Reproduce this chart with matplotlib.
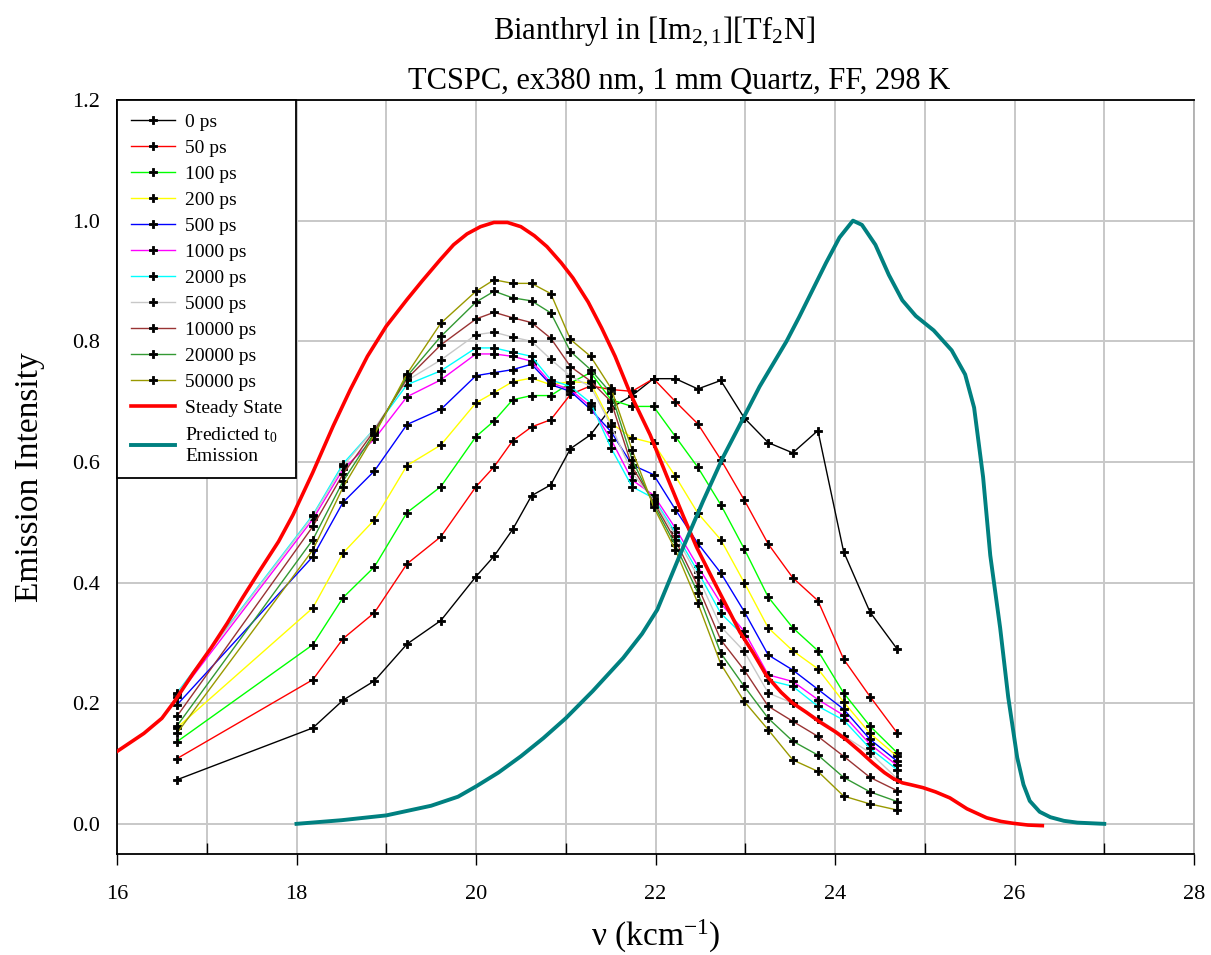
import matplotlib
matplotlib.use("Agg")
import matplotlib.pyplot as plt
from matplotlib.ticker import MultipleLocator
import numpy as np

plt.rcParams['font.family'] = ['Liberation Serif', 'DejaVu Serif']
plt.rcParams['mathtext.fontset'] = 'custom'
plt.rcParams['mathtext.rm'] = 'Liberation Serif'
plt.rcParams['mathtext.it'] = 'Liberation Serif'
plt.rcParams['mathtext.bf'] = 'Liberation Serif:bold'

# Emission wavelengths (nm) of the TCSPC points; x = 1e4 / wavelength (kcm^-1)
wavelengths = [600, 550, 540, 530, 520, 510, 500, 495, 490, 485, 480, 475, 470,
               465, 460, 455, 450, 445, 440, 435, 430, 425, 420, 415, 410, 405]

labels = ["0 ps", "50 ps", "100 ps", "200 ps", "500 ps", "1000 ps", "2000 ps",
          "5000 ps", "10000 ps", "20000 ps", "50000 ps"]

s0 = [0.073, 0.159, 0.205, 0.237, 0.298, 0.337, 0.41, 0.444, 0.488, 0.544, 0.562, 0.622, 0.645,
      0.690, 0.710, 0.738, 0.738, 0.721, 0.735, 0.673, 0.632, 0.615, 0.652, 0.451, 0.351, 0.290]
s50 = [0.108, 0.239, 0.307, 0.350, 0.431, 0.476, 0.559, 0.592, 0.635, 0.658, 0.670, 0.712, 0.726,
       0.720, 0.717, 0.738, 0.700, 0.663, 0.604, 0.537, 0.464, 0.408, 0.370, 0.273, 0.211, 0.151]
s100 = [0.136, 0.297, 0.375, 0.426, 0.516, 0.559, 0.642, 0.668, 0.703, 0.710, 0.710, 0.731, 0.748,
        0.703, 0.692, 0.692, 0.642, 0.591, 0.529, 0.456, 0.376, 0.325, 0.287, 0.217, 0.162, 0.118]
s200 = [0.159, 0.358, 0.449, 0.504, 0.594, 0.628, 0.698, 0.715, 0.733, 0.739, 0.728, 0.733, 0.731,
        0.664, 0.640, 0.631, 0.576, 0.515, 0.471, 0.400, 0.325, 0.287, 0.257, 0.202, 0.150, 0.112]
s500 = [0.197, 0.443, 0.533, 0.585, 0.662, 0.687, 0.743, 0.748, 0.753, 0.762, 0.728, 0.717, 0.687,
        0.650, 0.595, 0.579, 0.521, 0.465, 0.416, 0.352, 0.280, 0.255, 0.223, 0.190, 0.140, 0.104]
s1000 = [0.210, 0.505, 0.588, 0.638, 0.708, 0.736, 0.779, 0.779, 0.775, 0.767, 0.731, 0.720, 0.692,
         0.637, 0.570, 0.545, 0.490, 0.427, 0.366, 0.319, 0.247, 0.236, 0.206, 0.180, 0.132, 0.097]
s2000 = [0.217, 0.512, 0.597, 0.655, 0.728, 0.751, 0.789, 0.789, 0.782, 0.775, 0.736, 0.725, 0.698,
         0.623, 0.559, 0.540, 0.483, 0.418, 0.349, 0.311, 0.238, 0.228, 0.195, 0.172, 0.125, 0.090]
s5000 = [0.215, 0.510, 0.593, 0.655, 0.735, 0.769, 0.811, 0.815, 0.807, 0.800, 0.770, 0.742, 0.725,
         0.660, 0.582, 0.537, 0.478, 0.410, 0.327, 0.286, 0.217, 0.200, 0.174, 0.146, 0.118, 0.075]
s10000 = [0.178, 0.493, 0.580, 0.652, 0.738, 0.794, 0.837, 0.848, 0.839, 0.831, 0.805, 0.758, 0.734,
          0.700, 0.592, 0.534, 0.470, 0.394, 0.305, 0.255, 0.195, 0.170, 0.145, 0.112, 0.077, 0.055]
s20000 = [0.162, 0.471, 0.568, 0.648, 0.742, 0.808, 0.865, 0.883, 0.872, 0.867, 0.847, 0.783, 0.753,
          0.714, 0.604, 0.530, 0.462, 0.383, 0.283, 0.228, 0.175, 0.137, 0.114, 0.077, 0.053, 0.037]
s50000 = [0.150, 0.454, 0.558, 0.645, 0.746, 0.830, 0.883, 0.902, 0.896, 0.896, 0.879, 0.803, 0.775,
          0.722, 0.620, 0.526, 0.454, 0.366, 0.265, 0.203, 0.156, 0.106, 0.087, 0.046, 0.033, 0.023]

series = [s0, s50, s100, s200, s500, s1000, s2000, s5000, s10000, s20000, s50000]
colors = ["#000000", "#ff0000", "#00ff00", "#ffff00", "#0000ff", "#ff00ff", "#00ffff",
          "#c8c8c8", "#993333", "#339933", "#999900"]

ss_x = [16.0, 16.3, 16.5, 16.65, 16.85, 17.05, 17.23, 17.4, 17.6, 17.8, 17.96, 18.18, 18.41, 18.6,
        18.79, 19.0, 19.23, 19.4, 19.6, 19.75, 19.9, 20.05, 20.2, 20.35, 20.5, 20.65, 20.79,
        20.95, 21.08, 21.25, 21.4, 21.55, 21.72, 21.94, 22.13, 22.31, 22.46, 22.64, 22.83, 22.94,
        23.09, 23.24, 23.4, 23.53, 23.68, 23.83, 24.0, 24.13, 24.28, 24.42, 24.55, 24.65, 24.75,
        24.84, 24.98, 25.12, 25.28, 25.47, 25.69, 25.85, 25.98, 26.15, 26.31]
ss_y = [0.12, 0.15, 0.175, 0.205, 0.25, 0.292, 0.333, 0.375, 0.422, 0.468, 0.512, 0.582, 0.66, 0.72,
        0.775, 0.825, 0.869, 0.9, 0.935, 0.96, 0.978, 0.99, 0.997, 0.997, 0.99, 0.975, 0.957,
        0.93, 0.905, 0.865, 0.822, 0.775, 0.713, 0.645, 0.575, 0.51, 0.458, 0.405, 0.35, 0.318,
        0.283, 0.245, 0.218, 0.2, 0.185, 0.169, 0.153, 0.139, 0.12, 0.101, 0.085, 0.075, 0.068,
        0.065, 0.06, 0.053, 0.043, 0.025, 0.01, 0.004, 0.001, -0.002, -0.003]

pt_x = [18.0, 18.5, 19.0, 19.5, 19.8, 20.0, 20.25, 20.5, 20.75, 21.0, 21.3, 21.64, 21.85, 22.02,
        22.27, 22.53, 22.75, 22.98, 23.16, 23.3, 23.46, 23.6, 23.75, 23.9, 24.05, 24.2, 24.3,
        24.45, 24.6, 24.75, 24.9, 25.1, 25.3, 25.45, 25.55, 25.65, 25.73, 25.84, 25.93, 26.03,
        26.1, 26.17, 26.28, 26.4, 26.55, 26.7, 27.0]
pt_y = [0.0, 0.006, 0.014, 0.03, 0.045, 0.062, 0.085, 0.112, 0.142, 0.175, 0.22, 0.275, 0.315, 0.355,
        0.445, 0.535, 0.607, 0.673, 0.725, 0.76, 0.80, 0.84, 0.885, 0.93, 0.972, 1.0, 0.993,
        0.96, 0.91, 0.868, 0.842, 0.818, 0.785, 0.745, 0.69, 0.575, 0.445, 0.325, 0.21, 0.11,
        0.065, 0.038, 0.02, 0.011, 0.005, 0.002, 0.0]

x_pts = [1e4 / w for w in wavelengths]

fig = plt.figure(figsize=(12.11, 9.55), dpi=100)
ax = fig.add_axes([117/1211, 1 - 854/955, (1194-117)/1211, (854-100)/955])

for ys, c, lab in zip(series, colors, labels):
    ax.plot(x_pts, ys, color=c, lw=1.0, marker='P', ms=6, mfc='black', mec='black',
            mew=0.6, label=lab, zorder=3)

ax.plot(ss_x, ss_y, color="#ff0000", lw=2.6, label="Steady State", zorder=4)
ax.plot(pt_x, pt_y, color="#008080", lw=2.8, label="Predicted t$_0$\nEmission", zorder=4)

ax.set_xlim(16, 28)
ax.set_ylim(-0.05, 1.2)
ax.xaxis.set_major_locator(MultipleLocator(2))
ax.xaxis.set_minor_locator(MultipleLocator(1))
ax.set_yticks(np.arange(0, 1.21, 0.2))
ax.set_yticklabels([f"{v:.1f}" for v in np.arange(0, 1.21, 0.2)])
ax.grid(True, which='both', axis='x', color='#c8c8c8', lw=1.4, zorder=0)
ax.grid(True, which='major', axis='y', color='#c8c8c8', lw=1.4, zorder=0)
ax.set_axisbelow(True)
ax.tick_params(axis='x', which='major', direction='out', length=8, width=1, labelsize=16, pad=14)
ax.tick_params(axis='x', which='minor', direction='in', length=8, width=1)
ax.tick_params(axis='y', which='major', direction='out', length=0, width=1, labelsize=16, pad=12)

for side in ['left', 'bottom', 'top']:
    ax.spines[side].set_color('black')
    ax.spines[side].set_linewidth(1.3)
ax.spines['right'].set_color('#b0b0b0')
ax.spines['right'].set_linewidth(1.3)

ax.set_xlabel("ν (kcm$^{-1}$)", fontsize=24, labelpad=10)
ax.set_ylabel("Emission Intensity", fontsize=24, labelpad=20)

fig.text(0.540, 0.967, "Bianthryl in [Im$_{2,1}$][Tf$_2$N]", ha='center', va='center', fontsize=22)
fig.text(0.561, 0.915, "TCSPC, ex380 nm, 1 mm Quartz, FF, 298 K", ha='center', va='center', fontsize=22)

leg = ax.legend(loc='upper left', bbox_to_anchor=(0, 1), borderaxespad=0, fontsize=14,
                fancybox=False, edgecolor='black', framealpha=1, handlelength=2.3,
                handletextpad=0.5, labelspacing=0.43, borderpad=0.7)
leg.get_frame().set_linewidth(1.3)
leg.set_zorder(10)

fig.savefig("out.png", dpi=100)
